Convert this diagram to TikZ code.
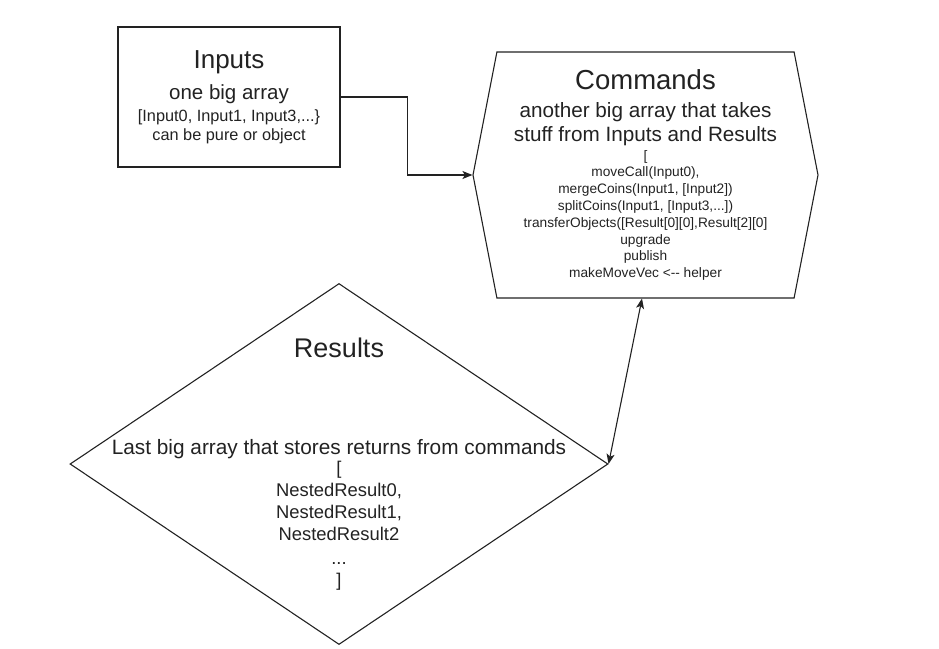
\documentclass[tikz,border=0pt]{standalone}
\usepackage{fontspec}
\setmainfont{Liberation Sans}
\usetikzlibrary{arrows.meta,positioning,shapes.geometric,shapes.symbols}
\definecolor{inkGrey}{HTML}{222222}
\newcommand{\fsz}[2]{\fontsize{#1}{#2}\selectfont}
\newcommand{\tightskip}{\lineskiplimit-100pt\relax}

\begin{document}
\begin{tikzpicture}[x=1pt, y=-1pt,
     box/.style={draw=inkGrey, line width=1.1pt, minimum width=222pt, minimum height=140pt,
                 inner sep=0pt, align=center, text=inkGrey,
                 font=\fsz{16.3}{19.5}\tightskip},
     hexa/.style={signal, signal to=east and west, signal pointer angle=158,
                  draw=inkGrey, line width=1.1pt, minimum width=345pt, minimum height=246pt,
                  inner sep=0pt, align=center, text=inkGrey,
                  font=\fsz{13.7}{16.8}\tightskip},
     dia/.style={diamond, draw=inkGrey, line width=1.1pt, minimum width=538pt,
                 minimum height=361pt, inner sep=0pt},
     diatxt/.style={inner sep=0pt, align=center, text=inkGrey,
                    font=\fsz{18.4}{22}\tightskip},
     arr/.style={-{Stealth[length=10pt,width=8pt,inset=2.5pt]}, line width=1.1pt, draw=inkGrey},
     dblarr/.style={{Stealth[length=10pt,width=8pt,inset=2.5pt]}-{Stealth[length=10pt,width=8pt,inset=2.5pt]},
                    line width=1.1pt, draw=inkGrey}]
  \useasboundingbox (0,0) rectangle (939,648);
  \node[box] (inp) at (229,97) {{\fsz{26}{30}Inputs}\\[12pt]
      {\fsz{20.5}{24}one big array}\\[2pt]
      {[Input0, Input1, Input3,...\}}\\
      can be pure or object};
  \node[hexa] (cmd) at (645.5,175) {{\fsz{27.5}{30}Commands}\\[11.5pt]
      {\fsz{20.7}{24}another big array that takes}\\[7.4pt]
      {\fsz{20.7}{24}stuff from Inputs and Results}\\[1.5pt]
      {[}\\
      moveCall(Input0),\\
      mergeCoins(Input1, [Input2])\\
      splitCoins(Input1, [Input3,...])\\
      transferObjects([Result[0][0],Result[2][0]\\
      upgrade\\
      publish\\
      makeMoveVec <-{}- helper};
  \node[dia] (res) at (339,464) {};
  \node[diatxt] (resT) at (res.center) {{\fsz{27}{30}Results}\\[75pt]
      {\fsz{20.8}{24}Last big array that stores returns from commands}\\[-2pt]
      {[}\\
      NestedResult0,\\
      NestedResult1,\\
      NestedResult2\\[2pt]
      ...\\
      ]};
  \draw[arr] (inp.east) -- ++(67,0) |- (cmd.west);
  \draw[dblarr] (res.east) -- ([xshift=-3.5pt]cmd.south);
\end{tikzpicture}
\end{document}
